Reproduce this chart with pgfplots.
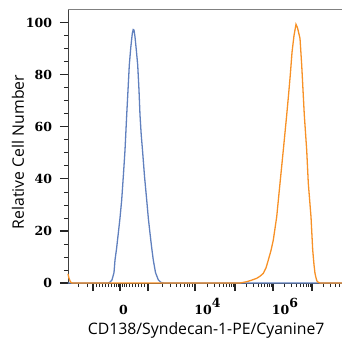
\documentclass[border=0pt]{standalone}
\usepackage{pgfplots}
\pgfplotsset{compat=1.18}
\usepackage{fontspec}
\newfontfamily\labelfont{Open Sans}
\newfontfamily\tickfont{DejaVu Serif}
\newcommand\tl[1]{\mbox{\tickfont\fontsize{12.5}{14}\selectfont\bfseries #1}}
\newcommand\sps[1]{\raisebox{0.5em}{#1}}
\definecolor{cblue}{RGB}{96,128,190}
\definecolor{corange}{RGB}{247,145,38}
\begin{document}
\begin{tikzpicture}
\begin{axis}[
  name=ax,
  scale only axis, width=274pt, height=274pt,
  xmin=68, xmax=342, ymin=0, ymax=105.2,
  axis y line*=left, axis x line*=bottom,
  axis line style={-, line width=0.8pt, draw=black!75},
  tick align=outside,
  major tick length=8pt, minor tick length=4pt,
  every major tick/.style={line width=1.3pt, black!85},
  every minor tick/.style={line width=0.6pt, black!85},
  xtick={120,195,273},
  xticklabels={\tl{0\vphantom{\sps{4}}},\tl{\hspace*{18pt}10\sps{4}},\tl{\hspace*{17pt}10\sps{6}}},
  extra x ticks={93,148,235,312},
  extra x tick labels={},
  minor xtick={78,87,96,99,102,105,108,111,114,116,118,122,124,126,129,132,135,138,141,144,162,170,176,180,184,187,189,192,207,214,219,223,226,229,231,233,246.4,253.1,257.9,261.6,264.6,267.1,269.3,271.3,284.7,291.6,296.5,300.3,303.3,306,308.2,310.2,323.7,330.6,335.5,339.3},
  xticklabel style={xshift=3.5pt, yshift=-4pt},
  ytick={0,20,40,60,80,100},
  yticklabels={\tl{0},\tl{20},\tl{40},\tl{60},\tl{80},\tl{100}},
  yticklabel style={xshift=-4.5pt},
  minor ytick={5,10,15,25,30,35,45,50,55,65,70,75,85,90,95},
  xlabel={\labelfont CD138/Syndecan-1-PE/Cyanine7},
  ylabel={\labelfont Relative Cell Number},
  xlabel style={at={(axis description cs:0.504,-0.1715)}, anchor=center, font=\fontsize{15.8}{18}\selectfont},
  ylabel style={at={(axis description cs:-0.1825,0.478)}, anchor=center, font=\fontsize{15.8}{18}\selectfont},
  clip=false,
]
\draw[black!50, line width=0.7pt] (rel axis cs:0,1) -- (rel axis cs:1,1);
\addplot[cblue, line width=1.3pt] coordinates {
(68,0) (108,0) (110,0.3) (112,1.2) (114,4) (115,8.8) (116.5,13) (118.3,19.1) (120,25) (121.7,31.9) (123.5,42) (125,51) (126.7,64.5) (128,74) (129.3,83.7) (130.8,90.5) (132.3,95.8) (133.2,97.3) (134,97.1) (135,94.5) (136.3,89.5) (137.7,83.7) (139,74) (140,64.5) (141.2,57) (142.5,51) (144.5,41) (146.7,31.9) (148.3,25) (150,19.1) (151.7,13.5) (153.3,8.8) (155.5,4) (158.3,1.2) (161,0.2) (164,0) (342,0)
};
\addplot[corange, line width=1.3pt] coordinates {
(68,3.5) (69,1.8) (70.5,0.4) (72,0) (240,0) (246.7,0.5) (251,1) (256.7,1.8) (260,2.6) (263.3,3.7) (266,5.8) (268.3,8.8) (271,12.5) (273.3,16.5) (276.7,25.4) (280,38.3) (283.3,51) (286.7,64.5) (288.5,72) (290.3,80) (292,88.5) (294,95) (296,99.3) (297.5,98) (300,93.9) (301.7,83.7) (304.3,64.5) (306.7,51) (308.3,38.3) (311,25.4) (312.7,12.7) (314,7) (315,3.7) (316.3,1.5) (317.3,0.5) (320,0) (342,0)
};
\end{axis}
\pgfresetboundingbox
\path[use as bounding box] ([shift={(-68pt,-62pt)}]ax.south west) rectangle ([shift={(0pt,9pt)}]ax.north east);
\end{tikzpicture}
\end{document}
